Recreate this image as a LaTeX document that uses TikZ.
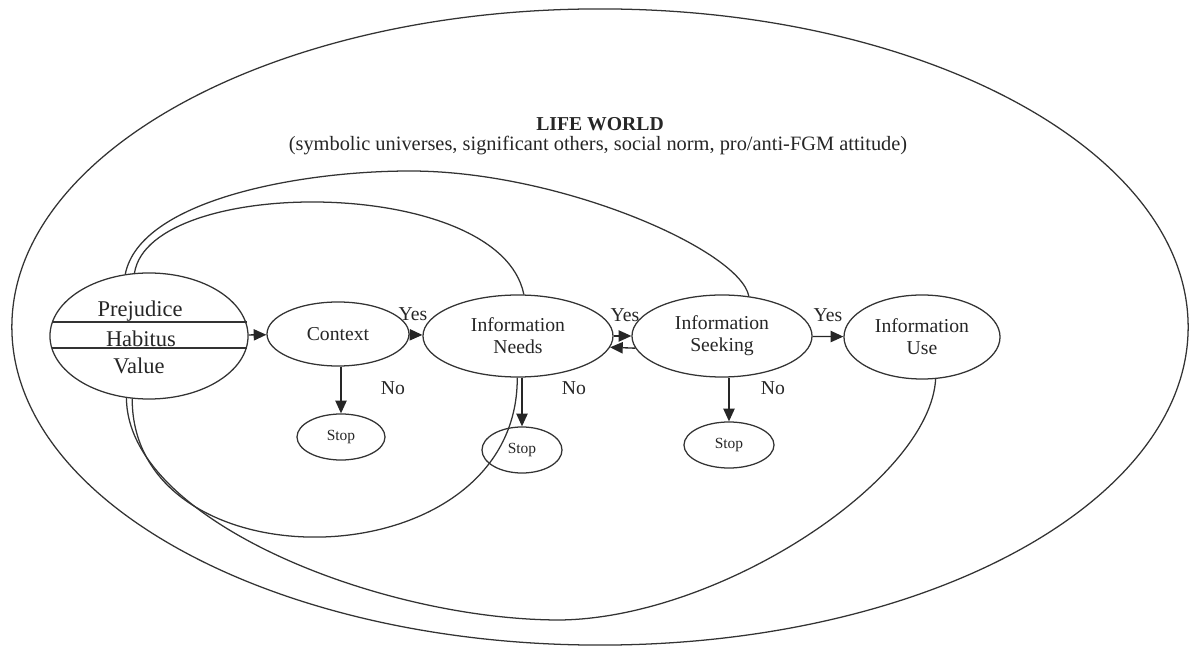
\documentclass[tikz,border=0pt]{standalone}
\usepackage{fontspec}
\setmainfont{Liberation Serif}
\usetikzlibrary{shapes.geometric,arrows.meta,calc}
\begin{document}
\begin{tikzpicture}[x=0.025cm,y=-0.025cm,
  every node/.style={text=black!85},
  oval/.style={draw=black!80,line width=0.9pt,ellipse,inner sep=0pt,align=center},
  proc/.style={oval,font=\fontsize{14}{15.5}\selectfont},
  stopn/.style={oval,font=\fontsize{11}{12}\selectfont,minimum height=1.15cm},
  lbl/.style={font=\fontsize{14}{16}\selectfont,inner sep=0pt},
  pv/.style={font=\fontsize{16}{18}\selectfont,inner sep=0pt},
  arr/.style={draw=black!85,line width=0.95pt,-{Triangle[length=9pt,width=8pt]}},
  link/.style={draw=black!80,line width=0.9pt},
]
\useasboundingbox (0,0) rectangle (1192,648);
% outer life world
\node[oval,minimum width=29.4cm,minimum height=15.9cm] (world) at (600,327) {};
\node[font=\bfseries\fontsize{14}{16}\selectfont,inner sep=0pt] (title) at (600,124) {LIFE WORLD};
\node[lbl,font=\fontsize{14.5}{16}\selectfont] (sub) at (598,146) {(symbolic universes, significant others, social norm, pro/anti-FGM attitude)};

% left ellipse
\node[oval,minimum width=4.95cm,minimum height=3.15cm] (L) at (149,336) {};
\draw[link] ($(L.center)+(-97,-14)$) coordinate (l1a) -- ($(L.center)+(98,-14)$) coordinate (l1b);
\draw[link] ($(L.center)+(-97,12)$) coordinate (l2a) -- ($(L.center)+(98,12)$) coordinate (l2b);
\node[pv] (prej) at (140,311) {Prejudice};
\node[pv] (hab) at (141,339) {Habitus};
\node[pv] (val) at (139,366) {Value};

% process nodes
\node[proc,minimum width=3.55cm,minimum height=1.6cm] (Ctx) at (338,334) {Context};
\node[proc,minimum width=4.75cm,minimum height=2.05cm] (Needs) at (518,336) {Information\\Needs};
\node[proc,minimum width=4.5cm,minimum height=2.05cm] (Seek) at (722,336) {Information\\Seeking};
\node[proc,minimum width=3.9cm,minimum height=2.1cm] (Use) at (922,337) {Information\\Use};

\node[stopn,minimum width=2.2cm] (S1) at (341,437) {Stop};
\node[stopn,minimum width=2.0cm] (S2) at (522,450) {Stop};
\node[stopn,minimum width=2.25cm] (S3) at (729,445) {Stop};

% arrows
\draw[arr] (L) -- (Ctx);
\draw[arr] (Ctx) -- (Needs);
\draw[arr] (Needs) -- (Seek);
\draw[arr] (Seek.188) -- (Needs.-7.5);
\draw[arr] (Seek) -- (Use);
\draw[arr] (Ctx.south -| S1) -- (S1);
\draw[arr] (Needs.south -| S2) -- (S2);
\draw[arr] (Seek.south -| S3) -- (S3);

% labels
\node[lbl] (y1) at (413,314) {Yes};
\node[lbl] (y2) at (625,315) {Yes};
\node[lbl] (y3) at (828,315) {Yes};
\node[lbl] (n1) at (393,388) {No};
\node[lbl] (n2) at (574,388) {No};
\node[lbl] (n3) at (773,388) {No};

% feedback curves
\draw[link] (L.111) .. controls (140,200) and (300,171) .. (410,171)
  .. controls (560,171) and (740,250) .. (Seek.56.6);
\draw[link] (L.103) .. controls (150,175) and (500,175) .. (Needs.82);
\draw[link] (L.255) .. controls (132,590) and (518,583) .. (Needs.-91);
\draw[link] (L.250.5) .. controls (127,520) and (380,620) .. (560,620)
  .. controls (720,618) and (930,480) .. (Use.-72.8);
\end{tikzpicture}
\end{document}
